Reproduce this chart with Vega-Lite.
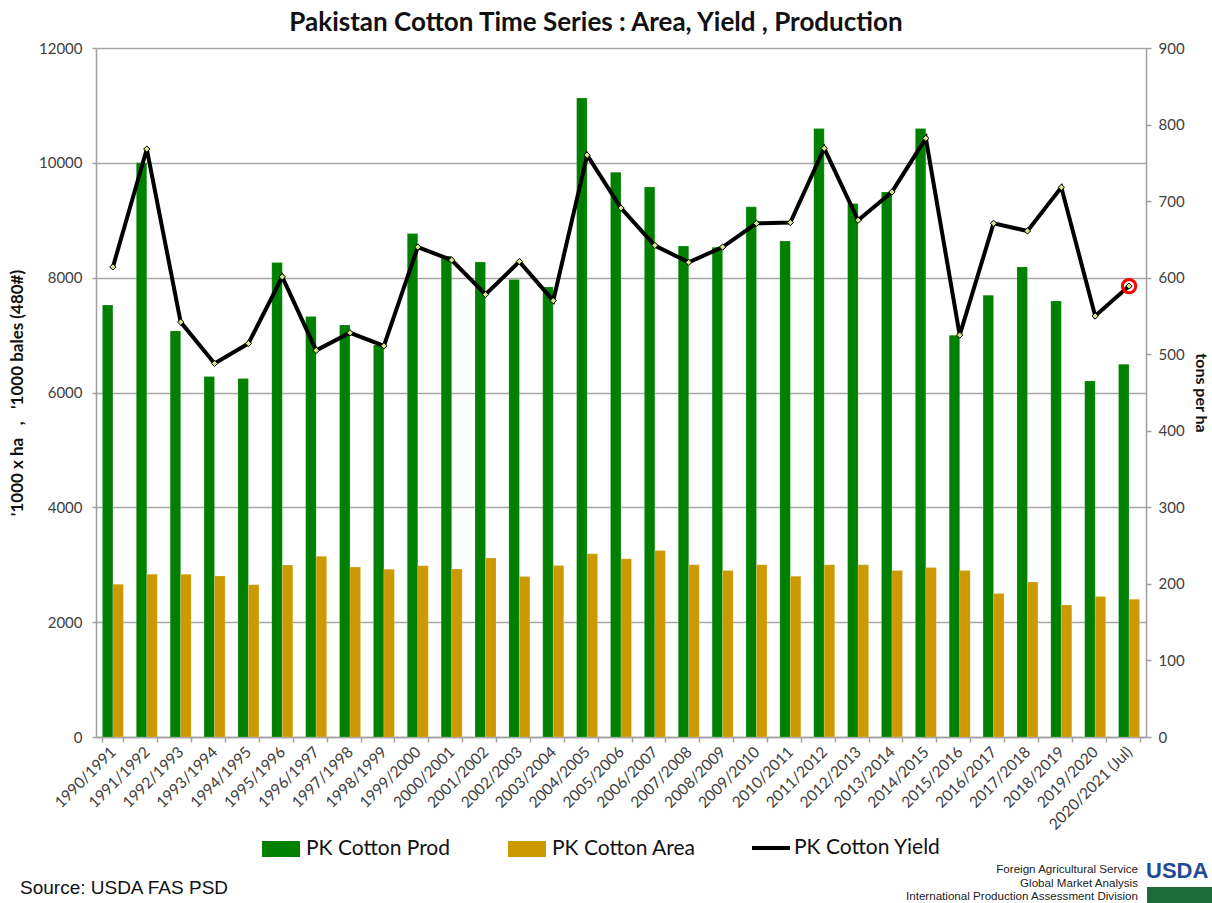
{
  "$schema": "https://vega.github.io/schema/vega-lite/v6.json",
  "autosize": {"type": "none"},
  "width": 1050,
  "height": 689,
  "padding": {"left": 96, "top": 48, "right": 66, "bottom": 166},
  "background": "white",
  "title": {
    "text": "Pakistan Cotton Time Series : Area, Yield , Production",
    "font": "Lato", "fontSize": 26, "fontWeight": "bold", "color": "#111111",
    "anchor": "middle", "dx": -25, "offset": 5
  },
  "config": {
    "view": {"stroke": null},
    "axis": {"labelFont": "Lato", "titleFont": "Lato", "labelColor": "#404040", "domainColor": "#a0a0a0", "tickColor": "#a0a0a0", "gridColor": "#a6a6a6"}
  },
  "data": {"values": [
    {"season": "1990/1991", "PK Cotton Prod": 7522, "PK Cotton Area": 2660, "PK Cotton Yield": 614},
    {"season": "1991/1992", "PK Cotton Prod": 10000, "PK Cotton Area": 2836, "PK Cotton Yield": 768},
    {"season": "1992/1993", "PK Cotton Prod": 7073, "PK Cotton Area": 2836, "PK Cotton Yield": 542},
    {"season": "1993/1994", "PK Cotton Prod": 6277, "PK Cotton Area": 2805, "PK Cotton Yield": 488},
    {"season": "1994/1995", "PK Cotton Prod": 6242, "PK Cotton Area": 2653, "PK Cotton Yield": 514},
    {"season": "1995/1996", "PK Cotton Prod": 8262, "PK Cotton Area": 2997, "PK Cotton Yield": 601},
    {"season": "1996/1997", "PK Cotton Prod": 7322, "PK Cotton Area": 3149, "PK Cotton Yield": 505},
    {"season": "1997/1998", "PK Cotton Prod": 7177, "PK Cotton Area": 2960, "PK Cotton Yield": 528},
    {"season": "1998/1999", "PK Cotton Prod": 6829, "PK Cotton Area": 2923, "PK Cotton Yield": 511},
    {"season": "1999/2000", "PK Cotton Prod": 8768, "PK Cotton Area": 2983, "PK Cotton Yield": 640},
    {"season": "2000/2001", "PK Cotton Prod": 8379, "PK Cotton Area": 2927, "PK Cotton Yield": 623},
    {"season": "2001/2002", "PK Cotton Prod": 8274, "PK Cotton Area": 3116, "PK Cotton Yield": 578},
    {"season": "2002/2003", "PK Cotton Prod": 7966, "PK Cotton Area": 2794, "PK Cotton Yield": 621},
    {"season": "2003/2004", "PK Cotton Prod": 7839, "PK Cotton Area": 2989, "PK Cotton Yield": 570},
    {"season": "2004/2005", "PK Cotton Prod": 11131, "PK Cotton Area": 3193, "PK Cotton Yield": 760},
    {"season": "2005/2006", "PK Cotton Prod": 9837, "PK Cotton Area": 3103, "PK Cotton Yield": 691},
    {"season": "2006/2007", "PK Cotton Prod": 9581, "PK Cotton Area": 3250, "PK Cotton Yield": 642},
    {"season": "2007/2008", "PK Cotton Prod": 8553, "PK Cotton Area": 3000, "PK Cotton Yield": 620},
    {"season": "2008/2009", "PK Cotton Prod": 8530, "PK Cotton Area": 2900, "PK Cotton Yield": 640},
    {"season": "2009/2010", "PK Cotton Prod": 9233, "PK Cotton Area": 3000, "PK Cotton Yield": 671},
    {"season": "2010/2011", "PK Cotton Prod": 8640, "PK Cotton Area": 2800, "PK Cotton Yield": 672},
    {"season": "2011/2012", "PK Cotton Prod": 10597, "PK Cotton Area": 3000, "PK Cotton Yield": 769},
    {"season": "2012/2013", "PK Cotton Prod": 9291, "PK Cotton Area": 3000, "PK Cotton Yield": 675},
    {"season": "2013/2014", "PK Cotton Prod": 9494, "PK Cotton Area": 2900, "PK Cotton Yield": 712},
    {"season": "2014/2015", "PK Cotton Prod": 10597, "PK Cotton Area": 2950, "PK Cotton Yield": 782},
    {"season": "2015/2016", "PK Cotton Prod": 6998, "PK Cotton Area": 2900, "PK Cotton Yield": 525},
    {"season": "2016/2017", "PK Cotton Prod": 7695, "PK Cotton Area": 2500, "PK Cotton Yield": 671},
    {"season": "2017/2018", "PK Cotton Prod": 8187, "PK Cotton Area": 2700, "PK Cotton Yield": 661},
    {"season": "2018/2019", "PK Cotton Prod": 7595, "PK Cotton Area": 2300, "PK Cotton Yield": 718},
    {"season": "2019/2020", "PK Cotton Prod": 6202, "PK Cotton Area": 2445, "PK Cotton Yield": 550},
    {"season": "2020/2021 (Jul)", "PK Cotton Prod": 6492, "PK Cotton Area": 2398, "PK Cotton Yield": 589}
  ]},
  "layer": [
    {
      "transform": [{"fold": ["PK Cotton Prod", "PK Cotton Area"], "as": ["series", "value"]}],
      "mark": {"type": "bar", "stroke": "#ffffff", "strokeOpacity": 0.35, "strokeWidth": 0.5},
      "encoding": {
        "x": {"field": "season", "type": "nominal", "sort": null,
          "scale": {"paddingInner": 0.38, "paddingOuter": 0.19},
          "axis": {"title": null, "labelAngle": -45, "labelAlign": "right", "labelBaseline": "middle", "labelFontSize": 15.5, "labelPadding": 7, "tickBand": "extent", "tickSize": 5, "domainWidth": 1.5, "tickWidth": 1.5}},
        "xOffset": {"field": "series", "type": "nominal", "scale": {"domain": ["PK Cotton Prod", "PK Cotton Area"], "paddingInner": 0}},
        "y": {"field": "value", "type": "quantitative",
          "scale": {"domain": [0, 12000]},
          "axis": {"title": "'1000 x ha\u00a0\u00a0\u00a0,\u00a0\u00a0\u00a0'1000 bales (480#)", "titleFontSize": 17, "titleFontWeight": "bold", "titleColor": "#111111", "titlePadding": 12, "values": [0, 2000, 4000, 6000, 8000, 10000, 12000], "format": "d", "labelFontSize": 15, "tickSize": 4, "labelPadding": 10, "grid": true, "gridWidth": 1.5, "domainWidth": 1.5, "tickWidth": 1.5}},
        "color": {"field": "series", "type": "nominal",
          "scale": {"domain": ["PK Cotton Prod", "PK Cotton Area"], "range": ["#008000", "#cc9900"]},
          "legend": {"title": null, "orient": "none", "direction": "horizontal", "legendX": 166, "legendY": 782,
            "labelFont": "Lato", "labelFontSize": 21, "labelColor": "#111111", "symbolType": "M-1,-0.42H1V0.42H-1Z", "symbolSize": 1444, "symbolStrokeWidth": 0, "columnPadding": 57, "labelOffset": 6}
        }
      }
    },
    {
      "mark": {"type": "line", "strokeWidth": 4},
      "encoding": {
        "x": {"field": "season", "type": "nominal", "sort": null},
        "y": {"field": "PK Cotton Yield", "type": "quantitative",
          "scale": {"domain": [0, 900]},
          "axis": {"orient": "right", "title": "tons per ha", "titleFontSize": 16, "titleFontWeight": "bold", "titleColor": "#111111", "titlePadding": 8, "values": [0, 100, 200, 300, 400, 500, 600, 700, 800, 900], "labelFontSize": 15, "tickSize": 5, "labelPadding": 7, "grid": false, "domainWidth": 1.5, "tickWidth": 1.5}},
        "stroke": {"datum": "PK Cotton Yield", "type": "nominal",
          "scale": {"domain": ["PK Cotton Yield"], "range": ["#000000"]},
          "legend": {"title": null, "orient": "none", "direction": "horizontal", "legendX": 654, "legendY": 779,
            "labelFont": "Lato", "labelFontSize": 21, "labelColor": "#111111", "symbolType": "stroke", "symbolSize": 1444, "symbolStrokeWidth": 4, "labelOffset": 2}}
      }
    },
    {
      "mark": {"type": "point", "shape": "diamond", "filled": true, "fill": "#d6e38c", "stroke": "#000000", "strokeWidth": 1, "size": 40, "opacity": 1},
      "encoding": {
        "x": {"field": "season", "type": "nominal", "sort": null},
        "y": {"field": "PK Cotton Yield", "type": "quantitative", "scale": {"domain": [0, 900]}, "axis": null}
      }
    },
    {
      "transform": [{"filter": "datum.season === '2020/2021 (Jul)'"}],
      "mark": {"type": "point", "shape": "circle", "filled": false, "stroke": "#ff0000", "strokeWidth": 3, "size": 180, "opacity": 1},
      "encoding": {
        "x": {"field": "season", "type": "nominal", "sort": null},
        "y": {"field": "PK Cotton Yield", "type": "quantitative", "scale": {"domain": [0, 900]}, "axis": null}
      }
    },
    {
      "data": {"values": [{"t": "Source: USDA FAS PSD"}]},
      "mark": {"type": "text", "x": -76, "y": 840, "align": "left", "baseline": "middle", "font": "Liberation Sans", "fontSize": 19, "color": "#111111"},
      "encoding": {"text": {"field": "t"}}
    },
    {
      "data": {"values": [{"t": "Foreign Agricultural Service", "line": 0}, {"t": "Global Market Analysis", "line": 1}, {"t": "International Production Assessment Division", "line": 2}]},
      "mark": {"type": "text", "align": "right", "baseline": "middle", "font": "Liberation Sans", "fontSize": 11.6, "color": "#222222", "x": 1042, "y": 822},
      "encoding": {"text": {"field": "t"}, "yOffset": {"field": "line", "type": "quantitative", "scale": {"domain": [0, 2], "range": [0, 27]}, "legend": null}}
    },
    {
      "data": {"values": [{"t": "USDA"}]},
      "mark": {"type": "text", "x": 1050, "y": 823, "align": "left", "baseline": "middle", "font": "Liberation Sans", "fontWeight": "bold", "fontSize": 22, "color": "#1f4a96"},
      "encoding": {"text": {"field": "t"}}
    },
    {
      "data": {"values": [{"t": "logo"}]},
      "mark": {"type": "rect", "x": 1051, "x2": 1116, "y": 839, "y2": 855, "color": "#1d6a3a"},
      "encoding": {}
    }
  ],
  "resolve": {"scale": {"y": "independent"}}
}
